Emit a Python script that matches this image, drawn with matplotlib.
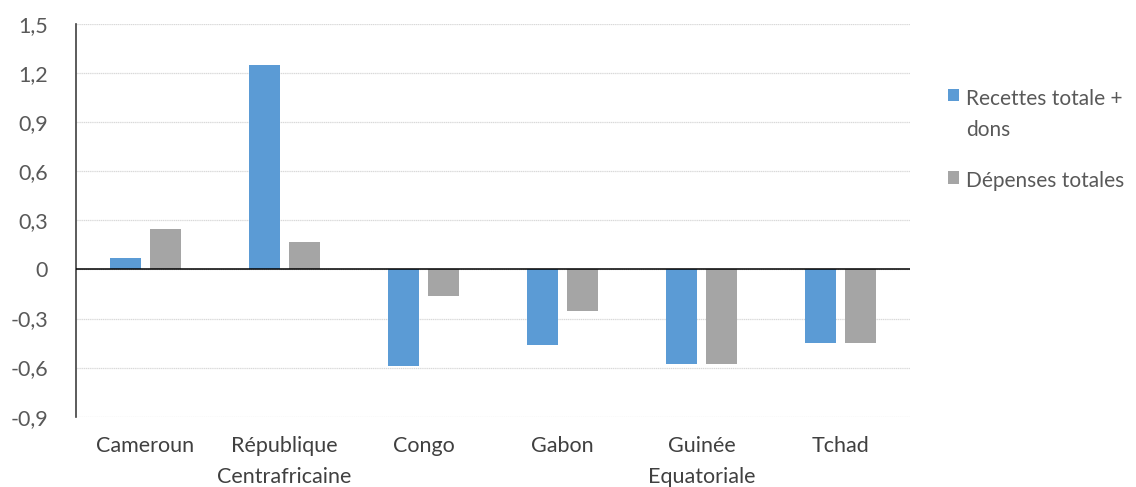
import matplotlib.pyplot as plt
import numpy as np

# Data
pays = ["Cameroun", "République\nCentrafricaine", "Congo", "Gabon",
        "Guinée\nEquatoriale", "Tchad"]
recettes = [0.07, 1.25, -0.59, -0.46, -0.58, -0.45]
depenses = [0.245, 0.17, -0.16, -0.255, -0.58, -0.45]
yticks = [-0.9, -0.6, -0.3, 0, 0.3, 0.6, 0.9, 1.2, 1.5]

plt.rcParams["font.family"] = ["Lato", "DejaVu Sans"]

fig = plt.figure(figsize=(11.36, 4.87), dpi=100)
ax = fig.add_axes([0.0669, 0.1444, 0.7341, 0.8063])

x = np.arange(len(pays))
w = 0.223
off = 0.142
ax.bar(x - off, recettes, w, color="#5B9BD5", label="Recettes totale +\ndons", zorder=3)
ax.bar(x + off, depenses, w, color="#A5A5A5", label="Dépenses totales", zorder=3)

ax.set_xlim(-0.5, len(pays) - 0.5)
ax.set_ylim(-0.9, 1.5)
ax.set_yticks(yticks)
ax.set_yticklabels([("%g" % v).replace(".", ",") for v in yticks])
ax.set_xticks(x)
ax.set_xticklabels(pays)
for t in ax.get_xticklabels():
    t.set_linespacing(1.7)

# Grid and axes
ax.yaxis.grid(True, color="#D9D9D9", linewidth=0.9, linestyle=(0, (1, 0.5)), zorder=0)
ax.axhline(0, color="#000000", linewidth=1.1, zorder=4)
for s in ["top", "right", "bottom"]:
    ax.spines[s].set_visible(False)
ax.spines["left"].set_color("#404040")
ax.spines["left"].set_linewidth(1.2)
ax.tick_params(axis="both", length=0)
ax.tick_params(axis="y", pad=20, labelsize=15.5, labelcolor="#595959")
ax.tick_params(axis="x", pad=14, labelsize=15.5, labelcolor="#404040")

# Legend on the right
leg = ax.legend(loc="upper left", bbox_to_anchor=(1.0456, 0.835), frameon=False,
                fontsize=15, labelcolor="#595959", handlelength=0.55,
                handleheight=0.55, handletextpad=0.3, labelspacing=1.5,
                borderpad=0, borderaxespad=0)
for t in leg.get_texts():
    t.set_linespacing(1.7)
for col in leg._legend_handle_box.get_children():
    for row in col.get_children():
        row.align = "top"

plt.savefig("out.png", dpi=100)
